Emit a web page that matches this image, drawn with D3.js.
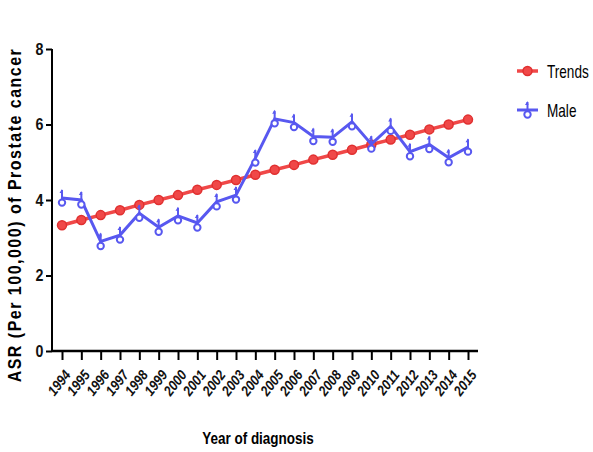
<!DOCTYPE html>
<html>
<head>
<meta charset="utf-8">
<script src="https://cdn.jsdelivr.net/npm/d3@7"></script>
<style>
  body { margin: 0; background: #fff; }
  text { font-family: "Liberation Sans", Arial, sans-serif; }
</style>
</head>
<body>
<div id="chart"></div>
<script>
// values
const years = [1994, 1995, 1996, 1997, 1998, 1999, 2000, 2001, 2002, 2003, 2004,
               2005, 2006, 2007, 2008, 2009, 2010, 2011, 2012, 2013, 2014, 2015];
const trends = [3.33, 3.47, 3.60, 3.73, 3.87, 4.00, 4.13, 4.27, 4.40, 4.53, 4.67,
                4.80, 4.93, 5.07, 5.20, 5.33, 5.47, 5.60, 5.73, 5.87, 6.00, 6.13];
const male = [4.05, 4.00, 2.90, 3.07, 3.65, 3.28, 3.58, 3.39, 3.95, 4.13, 5.11,
              6.15, 6.05, 5.68, 5.66, 6.07, 5.48, 5.95, 5.28, 5.47, 5.12, 5.40];
const yTicks = [0, 2, 4, 6, 8];

const width = 593, height = 452;
const margin = {top: 49, left: 52, right: 115, bottom: 101};

const svg = d3.select("#chart").append("svg")
    .attr("width", width)
    .attr("height", height);

const x = d3.scalePoint()
    .domain(years)
    .range([62, 468]);

const y = d3.scaleLinear()
    .domain([0, 8])
    .range([height - margin.bottom, margin.top]);

// y axis
const yAxis = svg.append("g")
    .attr("transform", "translate(" + margin.left + ",0)")
    .call(d3.axisLeft(y).tickValues(yTicks).tickSize(6).tickPadding(3));
yAxis.select(".domain").attr("stroke-width", 2).attr("d", "M0," + y(0) + "V" + y(8));
yAxis.selectAll(".tick line").attr("stroke-width", 2);
yAxis.selectAll("text")
    .attr("font-size", 15).attr("font-weight", "bold").attr("fill", "#111")
    .attr("transform", "scale(0.95,1.1)");

// x axis
const xAxis = svg.append("g")
    .attr("transform", "translate(0," + y(0) + ")")
    .call(d3.axisBottom(x).tickSize(9).tickPadding(4));
xAxis.select(".domain").attr("stroke-width", 2.5).attr("d", "M" + margin.left + ",0H478");
xAxis.selectAll(".tick line").attr("stroke-width", 2);
xAxis.selectAll("text")
    .attr("font-size", 13).attr("font-weight", "bold").attr("font-style", "italic")
    .attr("fill", "#111")
    .attr("text-anchor", "end")
    .attr("y", 0)
    .attr("dy", "0.35em")
    .attr("transform", "translate(5,21) rotate(-52) scale(0.95,1.1)");

// axis titles
svg.append("text")
    .attr("transform", "translate(258,444) scale(0.9,1.15)")
    .attr("text-anchor", "middle")
    .attr("font-size", 15).attr("font-weight", "bold")
    .text("Year of diagnosis");

svg.append("text")
    .attr("transform", "translate(21,215) rotate(-90) scale(1,1.1)")
    .attr("text-anchor", "middle")
    .attr("font-size", 16).attr("font-weight", "bold")
    .attr("letter-spacing", 1.5)
    .text("ASR (Per 100,000) of Prostate cancer");

const red = "#f04848", blue = "#5858f0";

const line = d3.line()
    .x((d, i) => x(years[i]))
    .y(d => y(d));

// trend line
svg.append("path")
    .datum(trends)
    .attr("fill", "none")
    .attr("stroke", red)
    .attr("stroke-width", 3.5)
    .attr("d", line);
svg.selectAll(".trend-pt")
    .data(trends)
    .enter().append("circle")
    .attr("class", "trend-pt")
    .attr("cx", (d, i) => x(years[i]))
    .attr("cy", d => y(d))
    .attr("r", 4.5)
    .attr("fill", red)
    .attr("stroke", "#e03030")
    .attr("stroke-width", 1.5);

// male line
svg.append("path")
    .datum(male)
    .attr("fill", "none")
    .attr("stroke", blue)
    .attr("stroke-width", 3)
    .attr("d", line);

function maleMarker(g, cx, cy) {
  g.append("line")
    .attr("x1", cx).attr("x2", cx)
    .attr("y1", cy - 8).attr("y2", cy + 2)
    .attr("stroke", blue).attr("stroke-width", 2);
  g.append("path")
    .attr("d", "M" + (cx - 2.5) + "," + (cy - 5) + "L" + cx + "," + (cy - 9) + "L" + (cx + 1) + "," + (cy - 5) + "Z")
    .attr("fill", blue);
  g.append("circle")
    .attr("cx", cx).attr("cy", cy + 4.5)
    .attr("r", 3.2)
    .attr("fill", "#fff")
    .attr("stroke", blue)
    .attr("stroke-width", 2);
}

const maleG = svg.append("g");
male.forEach((d, i) => maleMarker(maleG, x(years[i]), y(d)));

// legend
const legend = svg.append("g");
legend.append("line")
    .attr("x1", 517).attr("x2", 538).attr("y1", 71).attr("y2", 71)
    .attr("stroke", red).attr("stroke-width", 3.5);
legend.append("circle")
    .attr("cx", 527.5).attr("cy", 71).attr("r", 4.5)
    .attr("fill", red).attr("stroke", "#e03030").attr("stroke-width", 1.5);
legend.append("text")
    .attr("transform", "translate(547,78) scale(0.85,1.15)")
    .attr("font-size", 16)
    .text("Trends");

legend.append("line")
    .attr("x1", 517).attr("x2", 538).attr("y1", 110).attr("y2", 110)
    .attr("stroke", blue).attr("stroke-width", 3);
maleMarker(legend, 527.5, 110);
legend.append("text")
    .attr("transform", "translate(547,117) scale(0.85,1.15)")
    .attr("font-size", 16)
    .text("Male");
</script>
</body>
</html>
